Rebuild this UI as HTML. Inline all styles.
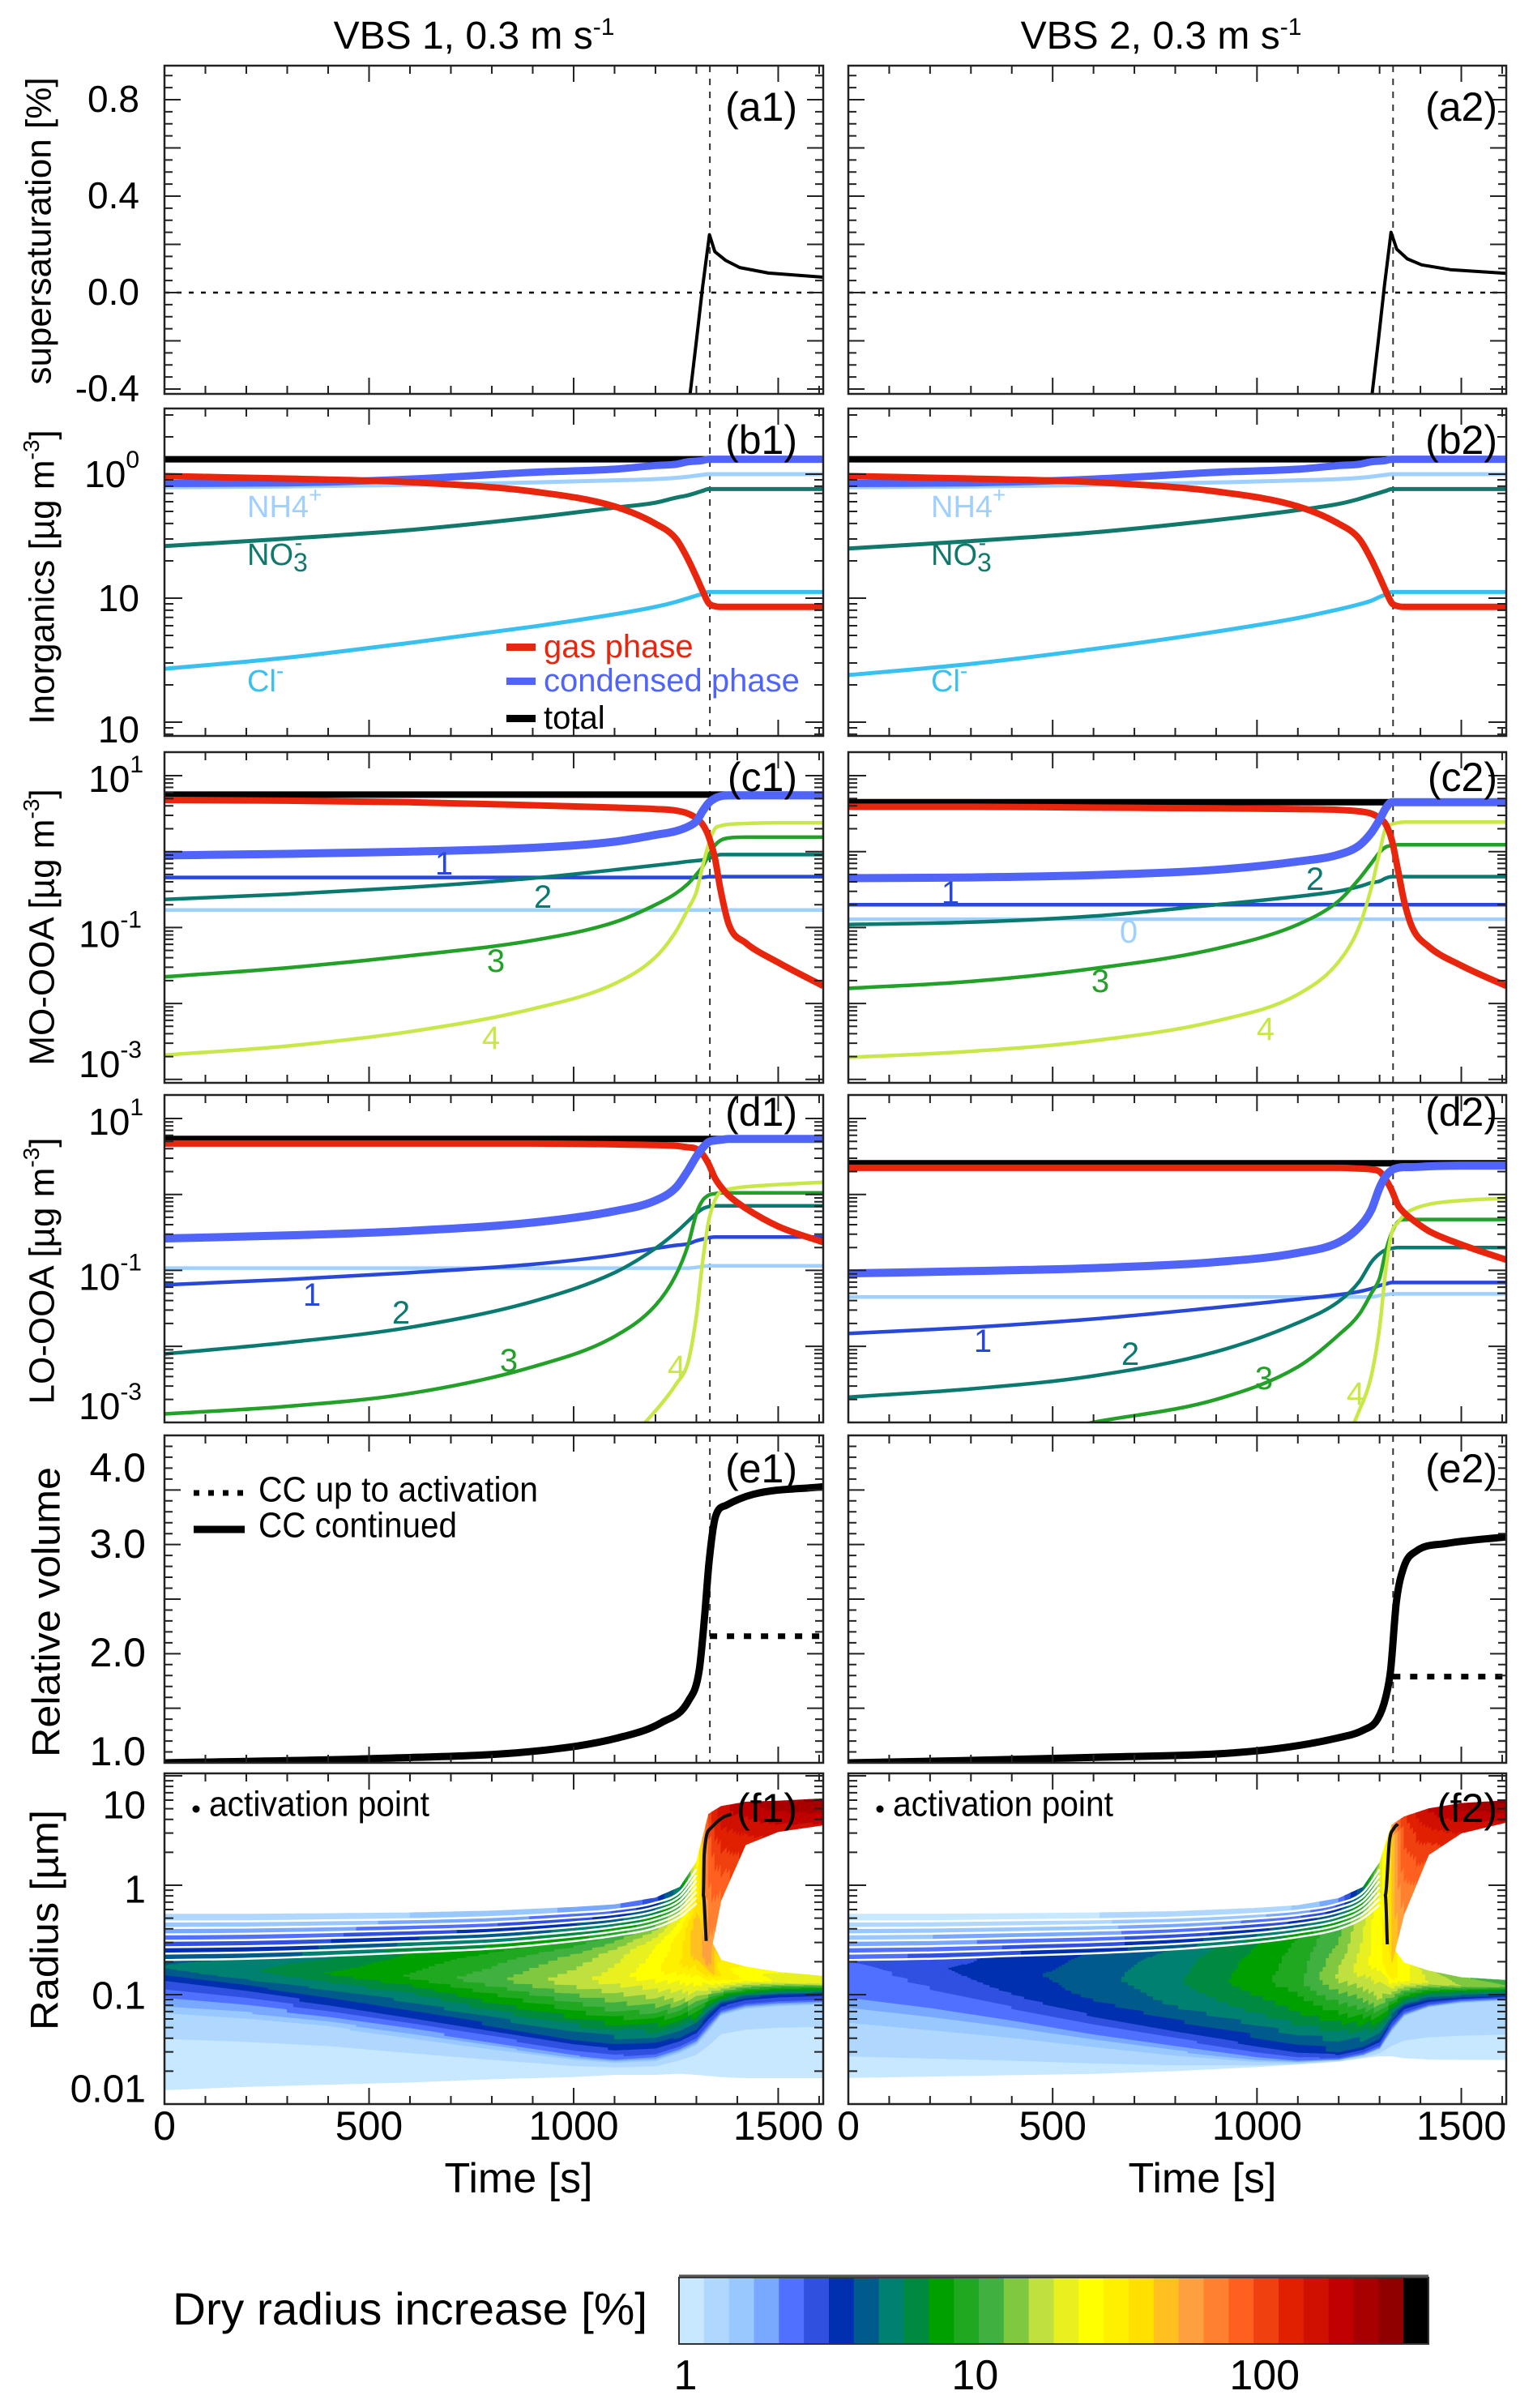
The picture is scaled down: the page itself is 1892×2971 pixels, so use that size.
<!DOCTYPE html>
<html><head><meta charset="utf-8">
<style>
html,body{margin:0;padding:0;background:#fff}
svg{display:block;font-family:"Liberation Sans",Arial,sans-serif}
</style></head>
<body>
<svg id="fig" width="1892" height="2971" viewBox="0 0 1892 2971" xmlns="http://www.w3.org/2000/svg">
<rect width="1892" height="2971" fill="#fff"/>
<defs id="defs"></defs>
<text x="585" y="60" font-size="48" text-anchor="middle">VBS 1, 0.3 m s<tspan dy="-17" font-size="30">-1</tspan></text>
<text x="1433" y="60" font-size="48" text-anchor="middle">VBS 2, 0.3 m s<tspan dy="-17" font-size="30">-1</tspan></text>
<text transform="translate(48,285) rotate(-90)" font-size="44" text-anchor="middle" dominant-baseline="central">supersaturation [%]</text>
<text transform="translate(52,712) rotate(-90)" font-size="44" text-anchor="middle" dominant-baseline="central">Inorganics  [µg m<tspan dy="-14" font-size="28">-3</tspan><tspan dy="14">]</tspan></text>
<text transform="translate(52,1144) rotate(-90)" font-size="44" text-anchor="middle" dominant-baseline="central">MO-OOA [µg m<tspan dy="-14" font-size="28">-3</tspan><tspan dy="14">]</tspan></text>
<text transform="translate(52,1568) rotate(-90)" font-size="44" text-anchor="middle" dominant-baseline="central">LO-OOA [µg m<tspan dy="-14" font-size="28">-3</tspan><tspan dy="14">]</tspan></text>
<text transform="translate(58,1989) rotate(-90)" font-size="48" text-anchor="middle" dominant-baseline="central" textLength="358" lengthAdjust="spacingAndGlyphs">Relative volume</text>
<text transform="translate(56,2369) rotate(-90)" font-size="48" text-anchor="middle" dominant-baseline="central" textLength="272" lengthAdjust="spacingAndGlyphs">Radius [µm]</text>
<text x="640" y="2705" font-size="52" text-anchor="middle" textLength="183" lengthAdjust="spacingAndGlyphs">Time [s]</text>
<text x="1484" y="2705" font-size="52" text-anchor="middle" textLength="183" lengthAdjust="spacingAndGlyphs">Time [s]</text>
<text x="213" y="2868" font-size="56" textLength="586" lengthAdjust="spacingAndGlyphs">Dry radius increase [%]</text>
<g id="root"></g>
</svg>
<script>
// ---------------- DATA ----------------
const T = [0,300,600,900,1100,1200,1250,1280,1300,1315,1330,1345,1360,1380,1420,1500,1610];
const ACT_T = 1333;
const a1_t = [1270,1285,1300,1315,1332,1345,1371,1406,1476,1610];
const a1_s = [-0.6,-0.415,-0.2,0.02,0.24,0.17,0.134,0.104,0.081,0.064];
const a2_t = [1265,1282,1297,1312,1328,1342,1368,1403,1473,1610];
const a2_s = [-0.6,-0.415,-0.2,0.03,0.25,0.18,0.14,0.115,0.095,0.08];
const b1_total = [0.12,0.12,0.12,0.12,0.12,0.12,0.12,0.12,0.12,0.12,0.12,0.12,0.12,0.12,0.12,0.12,0.12];
const b1_cond = [-0.075,-0.07,-0.04,0.015,0.04,0.07,0.08,0.10,0.105,0.11,0.12,0.12,0.12,0.12,0.12,0.12,0.12];
const b1_gas = [-0.016,-0.036,-0.065,-0.14,-0.26,-0.40,-0.52,-0.69,-0.83,-0.94,-1.04,-1.065,-1.07,-1.07,-1.07,-1.07,-1.07];
const b1_nh4 = [-0.106,-0.10,-0.086,-0.067,-0.05,-0.04,-0.03,-0.02,-0.012,-0.006,0,0,0,0,0,0,0];
const b1_no3 = [-0.58,-0.52,-0.45,-0.35,-0.27,-0.23,-0.19,-0.17,-0.15,-0.135,-0.12,-0.12,-0.12,-0.12,-0.12,-0.12,-0.12];
const b1_cl = [-1.57,-1.48,-1.36,-1.23,-1.13,-1.07,-1.03,-1.0,-0.98,-0.966,-0.95,-0.95,-0.95,-0.95,-0.95,-0.95,-0.95];
const b2_total = [0.12,0.12,0.12,0.12,0.12,0.12,0.12,0.12,0.12,0.12,0.12,0.12,0.12,0.12,0.12,0.12,0.12];
const b2_cond = [-0.075,-0.07,-0.04,0.015,0.04,0.07,0.08,0.10,0.105,0.11,0.12,0.12,0.12,0.12,0.12,0.12,0.12];
const b2_gas = [-0.016,-0.036,-0.065,-0.14,-0.26,-0.40,-0.52,-0.69,-0.83,-0.94,-1.04,-1.065,-1.07,-1.07,-1.07,-1.07,-1.07];
const b2_nh4 = [-0.106,-0.10,-0.086,-0.067,-0.05,-0.04,-0.03,-0.02,-0.012,-0.006,0,0,0,0,0,0,0];
const b2_no3 = [-0.60,-0.54,-0.47,-0.37,-0.29,-0.24,-0.20,-0.17,-0.15,-0.135,-0.12,-0.12,-0.12,-0.12,-0.12,-0.12,-0.12];
const b2_cl = [-1.62,-1.53,-1.41,-1.27,-1.16,-1.09,-1.05,-1.02,-0.99,-0.97,-0.95,-0.95,-0.95,-0.95,-0.95,-0.95,-0.95];
const c1_gas = [0.68,0.67,0.65,0.61,0.58,0.56,0.54,0.50,0.44,0.36,0.2,-0.08,-0.53,-0.97,-1.2,-1.46,-1.77];
const c1_cond = [-0.05,-0.03,0.0,0.05,0.13,0.22,0.27,0.33,0.40,0.53,0.64,0.70,0.73,0.74,0.74,0.74,0.74];
const c1_total = [0.75,0.75,0.75,0.75,0.75,0.75,0.75,0.75,0.75,0.75,0.75,0.75,0.75,0.75,0.75,0.75,0.75];
const c1_bin0 = [-0.77,-0.77,-0.77,-0.77,-0.77,-0.77,-0.77,-0.77,-0.77,-0.77,-0.77,-0.77,-0.77,-0.77,-0.77,-0.77,-0.77];
const c1_bin1 = [-0.34,-0.34,-0.34,-0.34,-0.34,-0.34,-0.34,-0.34,-0.34,-0.34,-0.33,-0.33,-0.33,-0.33,-0.33,-0.33,-0.33];
const c1_bin2 = [-0.63,-0.56,-0.47,-0.35,-0.24,-0.18,-0.15,-0.13,-0.12,-0.11,-0.09,-0.06,-0.04,-0.04,-0.04,-0.04,-0.04];
const c1_bin3 = [-1.65,-1.53,-1.37,-1.17,-0.93,-0.70,-0.55,-0.42,-0.30,-0.2,-0.05,0.08,0.15,0.18,0.19,0.19,0.19];
const c1_bin4 = [-2.68,-2.56,-2.37,-2.07,-1.74,-1.39,-1.05,-0.75,-0.53,-0.2,0.1,0.3,0.34,0.36,0.37,0.38,0.38];
const c2_gas = [0.59,0.59,0.58,0.57,0.56,0.55,0.53,0.50,0.44,0.36,0.15,-0.24,-0.65,-1.0,-1.25,-1.5,-1.77];
const c2_cond = [-0.35,-0.34,-0.31,-0.24,-0.13,-0.04,0.08,0.25,0.42,0.57,0.65,0.65,0.65,0.65,0.65,0.65,0.65];
const c2_total = [0.65,0.65,0.65,0.65,0.65,0.65,0.65,0.65,0.65,0.65,0.65,0.65,0.65,0.65,0.65,0.65,0.65];
const c2_bin0 = [-0.89,-0.89,-0.89,-0.89,-0.89,-0.89,-0.89,-0.89,-0.89,-0.89,-0.89,-0.89,-0.89,-0.89,-0.89,-0.89,-0.89];
const c2_bin1 = [-0.70,-0.70,-0.70,-0.70,-0.70,-0.70,-0.70,-0.70,-0.70,-0.70,-0.70,-0.70,-0.70,-0.70,-0.70,-0.70,-0.70];
const c2_bin2 = [-0.96,-0.93,-0.85,-0.70,-0.59,-0.52,-0.46,-0.41,-0.39,-0.35,-0.33,-0.33,-0.33,-0.33,-0.33,-0.33,-0.33];
const c2_bin3 = [-1.80,-1.71,-1.54,-1.28,-0.96,-0.65,-0.36,-0.15,-0.01,0.06,0.08,0.09,0.09,0.09,0.09,0.09,0.09];
const c2_bin4 = [-2.71,-2.63,-2.49,-2.23,-1.88,-1.45,-0.99,-0.47,-0.01,0.31,0.36,0.38,0.39,0.39,0.39,0.39,0.39];
const d1_gas = [0.67,0.67,0.67,0.67,0.66,0.65,0.64,0.62,0.60,0.53,0.40,0.22,0.10,-0.02,-0.18,-0.42,-0.63];
const d1_cond = [-0.58,-0.54,-0.48,-0.37,-0.22,-0.08,0.09,0.32,0.50,0.61,0.69,0.71,0.72,0.73,0.73,0.73,0.73];
const d1_total = [0.73,0.73,0.73,0.73,0.73,0.73,0.73,0.73,0.73,0.73,0.73,0.73,0.73,0.73,0.73,0.73,0.73];
const d1_bin0 = [-0.97,-0.97,-0.97,-0.97,-0.97,-0.97,-0.97,-0.97,-0.96,-0.95,-0.94,-0.94,-0.94,-0.94,-0.94,-0.94,-0.94];
const d1_bin1 = [-1.19,-1.12,-1.03,-0.92,-0.80,-0.71,-0.67,-0.65,-0.61,-0.59,-0.57,-0.56,-0.56,-0.56,-0.56,-0.56,-0.56];
const d1_bin2 = [-2.10,-1.95,-1.75,-1.41,-1.03,-0.71,-0.50,-0.35,-0.25,-0.19,-0.16,-0.15,-0.15,-0.15,-0.15,-0.15,-0.15];
const d1_bin3 = [-2.89,-2.79,-2.62,-2.27,-1.87,-1.46,-1.06,-0.66,-0.25,-0.08,-0.01,0.01,0.02,0.02,0.02,0.02,0.02];
const d1_bin4 = [-5.5,-5.2,-4.8,-4.2,-3.4,-2.85,-2.5,-2.2,-1.6,-0.9,-0.35,-0.08,0.04,0.07,0.10,0.13,0.16];
const d2_gas = [0.35,0.35,0.35,0.35,0.35,0.35,0.34,0.33,0.30,0.2,0.05,-0.14,-0.24,-0.33,-0.48,-0.66,-0.86];
const d2_cond = [-1.04,-1.01,-0.97,-0.89,-0.77,-0.63,-0.43,-0.20,0.09,0.24,0.32,0.35,0.36,0.36,0.37,0.38,0.38];
const d2_total = [0.41,0.41,0.41,0.41,0.41,0.41,0.41,0.41,0.41,0.41,0.41,0.41,0.41,0.41,0.41,0.41,0.41];
const d2_bin0 = [-1.35,-1.35,-1.35,-1.35,-1.35,-1.35,-1.35,-1.35,-1.33,-1.32,-1.31,-1.31,-1.31,-1.31,-1.31,-1.31,-1.31];
const d2_bin1 = [-1.83,-1.75,-1.64,-1.49,-1.38,-1.32,-1.28,-1.24,-1.20,-1.18,-1.16,-1.16,-1.16,-1.16,-1.16,-1.16,-1.16];
const d2_bin2 = [-2.67,-2.56,-2.39,-2.07,-1.69,-1.41,-1.15,-0.89,-0.78,-0.73,-0.71,-0.70,-0.70,-0.70,-0.70,-0.70,-0.70];
const d2_bin3 = [-3.5,-3.3,-3.0,-2.7,-2.27,-1.85,-1.58,-1.3,-1.1,-0.75,-0.5,-0.36,-0.33,-0.33,-0.33,-0.33,-0.33];
const d2_bin4 = [-6,-5.6,-5.1,-4.5,-3.9,-3.4,-2.85,-2.38,-1.75,-1.0,-0.5,-0.37,-0.27,-0.2,-0.13,-0.08,-0.05];
const e1_t = [0,518,913,1110,1215,1281,1307,1320,1331,1347,1373,1439,1610];
const e1_v = [1.0,1.04,1.11,1.23,1.37,1.57,1.85,2.34,2.84,3.26,3.36,3.46,3.53];
const e1_upto = 2.16;
const e2_t = [0,600,1000,1200,1260,1295,1315,1327,1341,1359,1390,1464,1610];
const e2_v = [1.0,1.05,1.11,1.23,1.3,1.40,1.6,1.85,2.47,2.79,2.94,3.01,3.07];
const e2_upto = 1.79;
const TF = [0,200,400,600,800,1000,1100,1200,1260,1300,1330,1360,1420,1500,1610];
const f1_n0 = [-1.87,-1.84,-1.82,-1.80,-1.77,-1.75,-1.73,-1.73,-1.72,-1.73,-1.74,-1.75,-1.76,-1.76,-1.76];
const f1_n1 = [-1.215,-1.264,-1.326,-1.425,-1.523,-1.610,-1.635,-1.622,-1.548,-1.474,-1.351,-1.202,-1.141,-1.116,-1.104];
const f1_n2 = [-1.104,-1.153,-1.227,-1.326,-1.437,-1.548,-1.585,-1.560,-1.486,-1.412,-1.277,-1.153,-1.091,-1.067,-1.054];
const f1_n3 = [-0.832,-0.931,-1.042,-1.165,-1.289,-1.412,-1.449,-1.437,-1.375,-1.301,-1.178,-1.079,-1.030,-1.005,-0.993];
const f1_n7 = [-0.684,-0.672,-0.647,-0.615,-0.580,-0.511,-0.462,-0.388,-0.289,-0.165,-0.462,-0.684,-0.746,-0.795,-0.832];
const f1_n8 = [-0.264,-0.264,-0.259,-0.252,-0.235,-0.202,-0.178,-0.116,-0.017,0.205,-0.462,-0.684,-0.746,-0.795,-0.832];
const f1_v0 = [1.1,1.1,1.1,1.1,1.1,1.1,1.1,1.1,1.1,1.1,1.1,1.1,1.1,1.1,1.1];
const f1_v1 = [1.25,1.25,1.25,1.25,1.25,1.25,1.25,1.25,1.25,1.25,1.25,1.25,1.25,1.25,1.25];
const f1_v2 = [1.7,1.8,1.9,2.0,2.1,2.2,2.3,2.4,2.4,2.4,2.4,2.4,2.4,2.4,2.4];
const f1_v3 = [3.5,3.5,3.6,3.6,3.6,3.6,3.7,3.8,3.9,4.0,3.8,3.6,3.5,3.5,3.5];
const f1_v4 = [4.3,4.6,4.9,5.2,6.5,8.0,9.5,11,14,18,16,13,10,8,7];
const f1_v5 = [4.6,5.3,6.7,8.2,11,16,19,24,30,40,45,30,24,20,17];
const f1_v6 = [4.4,5.0,5.8,7.2,9.0,12,15,20,26,40,50,26,22,19,17];
const f1_v7 = [4.2,4.6,5.2,6.6,7.5,8.5,10,13,19,30,50,30,24,21,18];
const f1_v8 = [1.1,1.15,1.2,1.3,1.4,1.6,1.8,2.5,5,12,50,30,24,21,18];
const TA = [1260,1300,1330,1360,1420,1500,1610];
const f1_a0 = [-0.02,-0.12,-0.71,-0.14,0.37,0.49,0.55];
const f1_a1 = [-0.02,0.21,0.65,0.72,0.76,0.77,0.79];
const f1_av0 = [5,30,45,60,100,120,130];
const f1_av1 = [5,20,80,130,160,190,210];
const f1_act_t = [1324,1317,1319,1335,1365,1386];
const f1_act_r = [-0.51,-0.09,0.28,0.52,0.62,0.65];
const f2_n0 = [-1.758,-1.746,-1.733,-1.721,-1.696,-1.659,-1.635,-1.610,-1.578,-1.560,-1.560,-1.578,-1.590,-1.593,-1.593];
const f2_n1 = [-1.301,-1.363,-1.425,-1.499,-1.573,-1.622,-1.622,-1.598,-1.560,-1.499,-1.338,-1.202,-1.116,-1.079,-1.054];
const f2_n2 = [-0.980,-1.079,-1.202,-1.338,-1.449,-1.560,-1.598,-1.585,-1.536,-1.474,-1.289,-1.165,-1.091,-1.049,-1.030];
const f2_n3 = [-0.709,-0.857,-1.030,-1.178,-1.314,-1.437,-1.499,-1.523,-1.474,-1.400,-1.227,-1.116,-1.054,-1.030,-1.010];
const f2_n7 = [-0.684,-0.672,-0.647,-0.622,-0.585,-0.523,-0.474,-0.400,-0.301,-0.178,-0.560,-0.709,-0.783,-0.844,-0.869];
const f2_n8 = [-0.264,-0.264,-0.259,-0.252,-0.240,-0.210,-0.185,-0.121,-0.017,0.205,-0.560,-0.709,-0.783,-0.844,-0.869];
const f2_v0 = [1.1,1.1,1.1,1.1,1.1,1.1,1.1,1.1,1.1,1.1,1.1,1.1,1.1,1.1,1.1];
const f2_v1 = [1.4,1.4,1.4,1.4,1.4,1.4,1.4,1.4,1.4,1.4,1.4,1.4,1.4,1.4,1.4];
const f2_v2 = [2.2,2.2,2.2,2.2,2.2,2.3,2.3,2.4,2.4,2.4,2.4,2.4,2.4,2.4,2.4];
const f2_v3 = [2.4,2.8,3.0,3.2,3.3,3.4,3.5,3.6,3.7,3.8,3.5,3.4,3.4,3.4,3.4];
const f2_v4 = [2.5,2.9,3.3,3.9,4.6,5.5,6.3,7.5,10,14,12,9,7,6,5.5];
const f2_v5 = [2.6,3.0,3.5,4.2,5.3,7.5,9,15,19,24,28,22,17,14,12];
const f2_v6 = [2.5,2.9,3.3,4.0,5.0,7.0,8.5,12,17,24,30,22,16,13,11];
const f2_v7 = [2.6,2.8,3.3,3.8,4.6,6.5,8,11,16,24,30,22,15,12,10];
const f2_v8 = [1.1,1.1,1.1,1.1,1.15,1.2,1.3,1.8,4,10,30,22,15,12,10];
const f2_a0 = [-0.017,-0.091,-0.709,-0.264,0.279,0.477,0.575];
const f2_a1 = [-0.017,0.205,0.551,0.625,0.699,0.748,0.773];
const f2_av0 = [5,20,35,50,80,110,130];
const f2_av1 = [5,15,40,90,140,180,210];
const f2_act_t = [1319,1314,1324,1335,1345];
const f2_act_r = [-0.54,-0.09,0.40,0.52,0.56];
const MID_W = [0.3,0.6,0.85];
const CB_COLORS = ['#c8e8ff','#b0d8ff','#98c8ff','#78a8ff','#5070ff','#3050e0','#0030b0','#005a8c','#008070','#008a40','#00a000','#20a820','#40b040','#80c840','#c0e040','#e8f020','#ffff00','#fff000','#ffe000','#ffc020','#ffa040','#ff8030','#ff6020','#f04010','#e02000','#d01000','#c00000','#a80000','#900000','#000000'];
const CB_TICKS = [1,10,100];
const CB_TICK_LABELS = ['1','10','100'];
const X_TICK_LABELS = [0,500,1000,1500];

// ---------------- LAYOUT ----------------
const NS = 'http://www.w3.org/2000/svg';
const root = document.getElementById('root');
const defs = document.getElementById('defs');
const COLS = [[203,1016],[1047,1859]];
const ROWS = {a:[81,486], b:[504,908], c:[928,1336], d:[1351,1755], e:[1771,2175], f:[2188,2596]};
const TMAX = 1610;
const YS = {
  a: v => 361 - v*297.5,
  b: L => 585 - L*153,
  c: L => 957 - (L-1)*93.7,
  d: L => 1380 - (L-1)*93.7,
  e: v => 2175 - (v-1)*134.67,
  f: L => 2596 - (L+2)*135
};
const YR = {a:[-0.42,0.945,'lin',0.2,0.05], b:[-2.11,0.53,'log'], c:[-3.04,1.31,'log'], d:[-3.0,1.31,'log'], e:[1,4,'lin',0.5,0.1], f:[-2,1.02,'log']};
function X(col, t){ return COLS[col][0] + t/TMAX*(COLS[col][1]-COLS[col][0]); }
function mk(tag, attrs, parent){ const e = document.createElementNS(NS, tag); for (const k in attrs) e.setAttribute(k, attrs[k]); (parent||root).appendChild(e); return e; }

function monoPath(px, py){
  const n = px.length; if (n < 2) return '';
  const d = [], m = new Array(n);
  for (let i=0;i<n-1;i++) d.push((py[i+1]-py[i])/(px[i+1]-px[i]));
  m[0]=d[0]; m[n-1]=d[n-2];
  for (let i=1;i<n-1;i++) m[i] = (d[i-1]*d[i] <= 0) ? 0 : (d[i-1]+d[i])/2;
  for (let i=0;i<n-1;i++){
    if (d[i]===0){ m[i]=0; m[i+1]=0; continue; }
    const a=m[i]/d[i], b=m[i+1]/d[i], s=a*a+b*b;
    if (s>9){ const tau=3/Math.sqrt(s); m[i]=tau*a*d[i]; m[i+1]=tau*b*d[i]; }
  }
  let p = 'M'+px[0].toFixed(1)+','+py[0].toFixed(1);
  for (let i=0;i<n-1;i++){
    const h = px[i+1]-px[i];
    p += 'C'+(px[i]+h/3).toFixed(1)+','+(py[i]+m[i]*h/3).toFixed(1)+' '+(px[i+1]-h/3).toFixed(1)+','+(py[i+1]-m[i+1]*h/3).toFixed(1)+' '+px[i+1].toFixed(1)+','+py[i+1].toFixed(1);
  }
  return p;
}
function linPath(px, py){ return px.map((x,i)=>(i?'L':'M')+x.toFixed(1)+','+py[i].toFixed(1)).join(''); }

const panels = {};
['a','b','c','d','e','f'].forEach(r=>{
  [0,1].forEach(c=>{
    const id = 'clip-'+r+(c+1);
    const cp = mk('clipPath', {id:id}, defs);
    mk('rect', {x:COLS[c][0], y:ROWS[r][0], width:COLS[c][1]-COLS[c][0], height:ROWS[r][1]-ROWS[r][0]}, cp);
    const g = mk('g', {'clip-path':'url(#'+id+')'});
    
    
    panels[r+c] = g;
  });
});

function drawSeries(r, c, times, vals, color, w, name, smooth, dash){
  const px = times.map(t=>X(c,t)), py = vals.map(v=>YS[r](v));
  const p = mk('path', {d: smooth===false ? linPath(px,py) : monoPath(px,py), fill:'none', stroke:color, 'stroke-width':w, 'stroke-linejoin':'round'}, panels[r+c]);
  if (dash) p.setAttribute('stroke-dasharray', dash);
  
  
  return p;
}

function bandColor(v){ let i = Math.floor(Math.log10(Math.max(v,1.0001))*12.2); i = Math.max(0, Math.min(29, i)); return CB_COLORS[i]; }
function drawMesh(c, times, pos, vals, nr, name){
  const g = mk('g', {}, panels['f'+c]);
  
  
  const lv = vals.map(a=>a.map(v=>Math.log10(v)));
  for (let i=0;i<times.length-1;i++){
    const xa = X(c,times[i]), xb = X(c,times[i+1]);
    const nt = Math.max(2, Math.ceil((xb-xa)/4));
    for (let k=0;k<pos.length-1;k++){
      const hA = Math.abs(YS.f(pos[k+1][i])-YS.f(pos[k][i])), hB = Math.abs(YS.f(pos[k+1][i+1])-YS.f(pos[k][i+1]));
      if (hA < 0.2 && hB < 0.2) continue;
      for (let a=0;a<nt;a++){
        const u0=a/nt, u1=(a+1)/nt, uc=(a+0.5)/nt;
        for (let b=0;b<nr;b++){
          const w0=b/nr, w1=(b+1)/nr, wc=(b+0.5)/nr;
          const P=(u,w)=>{ const L=(1-u)*((1-w)*pos[k][i]+w*pos[k+1][i]) + u*((1-w)*pos[k][i+1]+w*pos[k+1][i+1]); return [xa+u*(xb-xa), YS.f(L)]; };
          const V=(1-uc)*((1-wc)*lv[k][i]+wc*lv[k+1][i]) + uc*((1-wc)*lv[k][i+1]+wc*lv[k+1][i+1]);
          const p1=P(u0,w0),p2=P(u1,w0),p3=P(u1,w1),p4=P(u0,w1);
          if (Math.abs(p4[1]-p1[1])<0.05 && Math.abs(p3[1]-p2[1])<0.05) continue;
          const col = bandColor(Math.pow(10,V));
          const poly = mk('polygon', {points:[p1,p2,p3,p4].map(q=>q[0].toFixed(1)+','+q[1].toFixed(1)).join(' '), fill:col, stroke:col, 'stroke-width':0.8}, g);
          
          
        }
      }
    }
  }
}
function fPanel(c, n0,n1,n2,n3,n7,n8, v0,v1,v2,v3,v4,v5,v6,v7,v8, a0,a1,av0,av1, actT, actR){
  const mid = MID_W.map(w=>n3.map((y,i)=>y + w*(n7[i]-y)));
  drawMesh(c, TF, [n0,n1,n2,n3,mid[0],mid[1],mid[2],n7,n8], [v0,v1,v2,v3,v4,v5,v6,v7,v8], 7, 'unactivated-particles-contour-f'+(c+1));
  drawMesh(c, TA, [a0,a1], [av0,av1], 12, 'activated-droplets-contour-f'+(c+1));
  const lim = 10;
  [0,0.14,0.28,0.42,0.56,0.7,0.84].forEach(w=>{
    const tt = TF.slice(0,lim), yy = n7.slice(0,lim).map((y,i)=>y + w*(n8[i]-y));
    drawSeries('f', c, tt, yy, '#ffffff', 2.5, 'bin-separator-line', true);
  });
  drawSeries('f', c, actT, actR, '#111', 4, 'activation-point-curve', true);
}
fPanel(0, f1_n0,f1_n1,f1_n2,f1_n3,f1_n7,f1_n8, f1_v0,f1_v1,f1_v2,f1_v3,f1_v4,f1_v5,f1_v6,f1_v7,f1_v8, f1_a0,f1_a1,f1_av0,f1_av1, f1_act_t, f1_act_r);
fPanel(1, f2_n0,f2_n1,f2_n2,f2_n3,f2_n7,f2_n8, f2_v0,f2_v1,f2_v2,f2_v3,f2_v4,f2_v5,f2_v6,f2_v7,f2_v8, f2_a0,f2_a1,f2_av0,f2_av1, f2_act_t, f2_act_r);

const RED='#e8260e', COND='#5064f8', BLK='#000', NH4='#a0d0ff', NO3='#11786c', CL='#38c0f0';
const BIN0='#a0d0ff', BIN1='#2848d8', BIN2='#0a7a70', BIN3='#22a028', BIN4='#c8e84a';
[0,1].forEach(c=>{
  ['a','b','c','d','e'].forEach(r=>{
    const v = mk('line', {x1:X(c,ACT_T), x2:X(c,ACT_T), y1:ROWS[r][0], y2:ROWS[r][1], stroke:'#333', 'stroke-width':2, 'stroke-dasharray':'8 8'}, panels[r+c]);
    
    
  });
  const z = mk('line', {x1:COLS[c][0], x2:COLS[c][1], y1:YS.a(0), y2:YS.a(0), stroke:'#000', 'stroke-width':2.5, 'stroke-dasharray':'6 9'}, panels['a'+c]);
  
  
});
drawSeries('a',0,a1_t,a1_s,BLK,4,'supersaturation-line',false);
drawSeries('a',1,a2_t,a2_s,BLK,4,'supersaturation-line',false);
[[0,b1_nh4,b1_no3,b1_cl,b1_total,b1_cond,b1_gas],[1,b2_nh4,b2_no3,b2_cl,b2_total,b2_cond,b2_gas]].forEach(s=>{
  const c=s[0];
  drawSeries('b',c,T,s[1],NH4,5,'nh4-line');
  drawSeries('b',c,T,s[2],NO3,5,'no3-line');
  drawSeries('b',c,T,s[3],CL,5,'cl-line');
  drawSeries('b',c,T,s[4],BLK,8,'total-line');
  drawSeries('b',c,T,s[5],COND,9,'condensed-phase-line');
  drawSeries('b',c,T,s[6],RED,8,'gas-phase-line');
});
[['c',0,[c1_bin0,c1_bin1,c1_bin2,c1_bin3,c1_bin4],c1_total,c1_gas,c1_cond],
 ['c',1,[c2_bin0,c2_bin1,c2_bin2,c2_bin3,c2_bin4],c2_total,c2_gas,c2_cond],
 ['d',0,[d1_bin0,d1_bin1,d1_bin2,d1_bin3,d1_bin4],d1_total,d1_gas,d1_cond],
 ['d',1,[d2_bin0,d2_bin1,d2_bin2,d2_bin3,d2_bin4],d2_total,d2_gas,d2_cond]].forEach(s=>{
  const r=s[0], c=s[1], cols=[BIN0,BIN1,BIN2,BIN3,BIN4];
  s[2].forEach((arr,j)=>drawSeries(r,c,T,arr,cols[j],4.5,'volatility-bin-'+j+'-line'));
  drawSeries(r,c,T,s[3],BLK,8,'total-line');
  drawSeries(r,c,T,s[4],RED,8,'gas-phase-line');
  drawSeries(r,c,T,s[5],COND,10,'condensed-phase-line');
});
drawSeries('e',0,e1_t,e1_v,BLK,9,'cc-continued-line');
drawSeries('e',1,e2_t,e2_v,BLK,9,'cc-continued-line');
drawSeries('e',0,[ACT_T,TMAX],[e1_upto,e1_upto],BLK,7,'cc-up-to-activation-line',false,'9 12');
drawSeries('e',1,[ACT_T,TMAX],[e2_upto,e2_upto],BLK,7,'cc-up-to-activation-line',false,'9 12');

['a','b','c','d','e','f'].forEach(r=>{
  [0,1].forEach(c=>{
    const x0=COLS[c][0], x1=COLS[c][1], y0=ROWS[r][0], y1=ROWS[r][1];
    const fr = mk('rect', {x:x0, y:y0, width:x1-x0, height:y1-y0, fill:'none', stroke:'#222', 'stroke-width':2.5});
    
    
    let d='';
    for (let t=0;t<=TMAX;t+=100){ const x=X(c,t), L=(t%500===0)?20:10; d+='M'+x+','+y1+'v'+(-L)+'M'+x+','+y0+'v'+L; }
    const yr = YR[r];
    const addY=(y,L)=>{ if (y<y0+1||y>y1-1) return; d+='M'+x0+','+y+'h'+L+'M'+x1+','+y+'h'+(-L); };
    if (yr[2]==='lin'){
      for (let v=Math.ceil(yr[0]/yr[4]-1e-6)*yr[4]; v<=yr[1]+1e-9; v+=yr[4]){
        const maj = Math.abs(v/yr[3]-Math.round(v/yr[3]))<1e-6; addY(YS[r](v), maj?20:10);
      }
    } else {
      for (let dec=Math.floor(yr[0]); dec<=Math.ceil(yr[1]); dec++) for (let m=1;m<=9;m++){ const L=dec+Math.log10(m); if (L>=yr[0]&&L<=yr[1]) addY(YS[r](L), m===1?22:11); }
    }
    const tk = mk('path', {d:d, stroke:'#222', 'stroke-width':2, fill:'none'});
    
    
  });
});

function txt(x,y,s,opts,name){
  const t = mk('text', Object.assign({x:x,y:y,'font-size':46,'dominant-baseline':'central'},opts||{}));
  t.textContent = s;
  
  
  return t;
}
function supTxt(x,y,base,sup,name,fs){
  const t = mk('text', {x:x,y:y,'font-size':fs||46,'text-anchor':'end','dominant-baseline':'central'});
  
  
  const a = mk('tspan',{},t); a.textContent = base;
  if (sup){ const b = mk('tspan',{dy:-18,'font-size':30},t); b.textContent = sup; }
  return t;
}
[['0.8',0.8],['0.4',0.4],['0.0',0],['-0.4',-0.4]].forEach(p=>txt(172,YS.a(p[1])-1,p[0],{'text-anchor':'end'},'y-tick-label'));
supTxt(172,YS.b(0),'10','0','y-tick-label');
supTxt(172,YS.b(-1),'10','','y-tick-label');
supTxt(172,ROWS.b[1]-8,'10','','y-tick-label');
supTxt(177,YS.c(1)+4,'10','1','y-tick-label');
supTxt(175,YS.c(-1)+8,'10','-1','y-tick-label');
supTxt(175,1313,'10','-3','y-tick-label');
supTxt(177,YS.d(1)+4,'10','1','y-tick-label');
supTxt(175,YS.d(-1)+8,'10','-1','y-tick-label');
supTxt(175,1735,'10','-3','y-tick-label');
[['4.0',1811],['3.0',1905],['2.0',2039],['1.0',2161]].forEach(p=>txt(180,p[1],p[0],{'text-anchor':'end','font-size':50},'y-tick-label'));
[['10',2228],['1',2332],['0.1',2463],['0.01',2578]].forEach(p=>txt(180,p[1],p[0],{'text-anchor':'end','font-size':48},'y-tick-label'));
[0,1].forEach(c=>X_TICK_LABELS.forEach(t=>txt(X(c,t),2623,String(t),{'text-anchor':'middle','font-size':50},'x-tick-label')));
const PL_Y = {a:132,b:543,c:959,d:1372,e:1812,f:2231};
const PL_X = [984,1848];
['a','b','c','d','e','f'].forEach(r=>[0,1].forEach(c=>txt(PL_X[c],PL_Y[r],'('+r+(c+1)+')',{'text-anchor':'end','font-size':50},'panel-label-'+r+(c+1))));

[0,844].forEach(dx=>{
  const t1 = mk('text',{x:305+dx,y:638,'font-size':38,fill:NH4});
  
  
  t1.appendChild(document.createTextNode('NH4'));
  const s1 = mk('tspan',{dy:-18,'font-size':28},t1); s1.textContent='+';
  const t2 = mk('text',{x:305+dx,y:697,'font-size':38,fill:NO3});
  
  
  t2.appendChild(document.createTextNode('NO'));
  const s2 = mk('tspan',{dy:8,'font-size':32},t2); s2.textContent='3';
  const s3 = mk('tspan',{dx:-16,dy:-26,'font-size':28},t2); s3.textContent='-';
  const t3 = mk('text',{x:305+dx,y:853,'font-size':38,fill:CL});
  
  
  t3.appendChild(document.createTextNode('Cl'));
  const s4 = mk('tspan',{dy:-16,'font-size':28},t3); s4.textContent='-';
});
[['gas phase',RED,798],['condensed phase',COND,840],['total',BLK,886]].forEach(l=>{
  const sw = mk('rect',{x:625,y:l[2]-4,width:36,height:9,fill:l[1]});
  
  
  txt(671,l[2],l[0],{'font-size':40,fill:l[1]},'legend-entry');
});
[[548,1066,'1',BIN1],[670,1107,'2',BIN2],[612,1186,'3',BIN3],[606,1281,'4',BIN4],
 [1173,1102,'1',BIN1],[1623,1085,'2',BIN2],[1393,1150,'0',BIN0],[1358,1211,'3',BIN3],[1562,1270,'4',BIN4],
 [385,1598,'1',BIN1],[495,1620,'2',BIN2],[628,1679,'3',BIN3],[835,1687,'4',BIN4],
 [1213,1655,'1',BIN1],[1395,1671,'2',BIN2],[1560,1701,'3',BIN3],[1673,1720,'4',BIN4]].forEach(p=>txt(p[0],p[1],p[2],{'text-anchor':'middle','font-size':40,fill:p[3]},'bin-label'));
const eDot = mk('line',{x1:239,x2:302,y1:1842,y2:1842,stroke:'#000','stroke-width':7,'stroke-dasharray':'7 11'});


const eSol = mk('line',{x1:239,x2:302,y1:1887,y2:1887,stroke:'#000','stroke-width':9});


txt(319,1838,'CC up to activation',{'font-size':44,textLength:345,lengthAdjust:'spacingAndGlyphs'},'legend-entry-cc-up-to-activation');
txt(319,1882,'CC continued',{'font-size':44,textLength:245,lengthAdjust:'spacingAndGlyphs'},'legend-entry-cc-continued');
[0,844].forEach(dx=>{
  const dot = mk('circle',{cx:242+dx,cy:2232,r:4.5,fill:'#000'});
  
  
  txt(258+dx,2226,'activation point',{'font-size':44,textLength:272,lengthAdjust:'spacingAndGlyphs'},'legend-entry-activation-point');
});
const CBX0=838, CBX1=1763, CBY=2810, CBH=82;
const cbg = mk('g',{});


CB_COLORS.forEach((col,i)=>{
  const w=(CBX1-CBX0)/CB_COLORS.length;
  const r = mk('rect',{x:CBX0+i*w,y:CBY,width:w+0.6,height:CBH,fill:col},cbg);
  
  
});
const cbf = mk('rect',{x:CBX0,y:CBY,width:CBX1-CBX0,height:CBH,fill:'none',stroke:'#333','stroke-width':2},cbg);


const cbt = mk('line',{x1:CBX0,x2:CBX1,y1:CBY-2,y2:CBY-2,stroke:'#555','stroke-width':3},cbg);


const CB_DEC = (CBX1-CBX0)/(CB_COLORS.length/12.2);
CB_TICKS.forEach((v,i)=>txt(CBX0+8+Math.log10(v)*CB_DEC*0.95,2931,CB_TICK_LABELS[i],{'text-anchor':'middle','font-size':52},'colorbar-tick-label'));
</script>
</body></html>
